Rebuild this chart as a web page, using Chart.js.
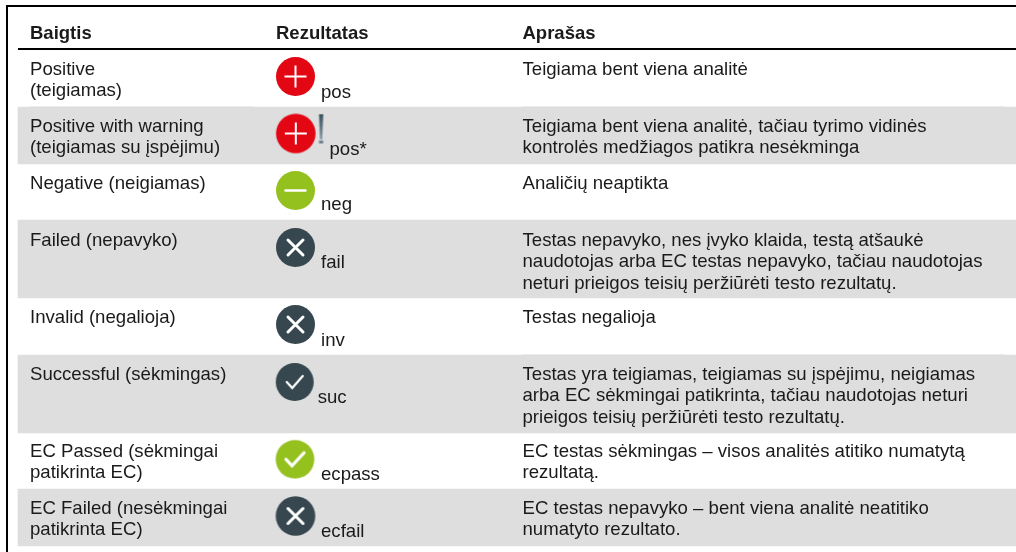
<!DOCTYPE html>
<html lang="lt">
<head>
<meta charset="utf-8">
<title>Baigtis</title>
<script src="https://cdn.jsdelivr.net/npm/chart.js@4/dist/chart.umd.min.js"></script>
<style>
  html, body { margin: 0; background: #fff; }
  canvas { display: block; }
</style>
</head>
<body>
<canvas id="myChart" width="1016" height="552"></canvas>
<script>
const headers = ['Baigtis', 'Rezultatas', 'Aprašas'];
const outcomes = [
  ['Positive', '(teigiamas)'],
  ['Positive with warning', '(teigiamas su įspėjimu)'],
  ['Negative (neigiamas)'],
  ['Failed (nepavyko)'],
  ['Invalid (negalioja)'],
  ['Successful (sėkmingas)'],
  ['EC Passed (sėkmingai', 'patikrinta EC)'],
  ['EC Failed (nesėkmingai', 'patikrinta EC)'],
];
const resultCodes = ['pos', 'pos*', 'neg', 'fail', 'inv', 'suc', 'ecpass', 'ecfail'];
const resultIcons = ['plus', 'plus', 'minus', 'cross', 'cross', 'check', 'greenCheck', 'cross'];
const descriptions = [
  ['Teigiama bent viena analitė'],
  ['Teigiama bent viena analitė, tačiau tyrimo vidinės', 'kontrolės medžiagos patikra nesėkminga'],
  ['Analičių neaptikta'],
  ['Testas nepavyko, nes įvyko klaida, testą atšaukė', 'naudotojas arba EC testas nepavyko, tačiau naudotojas', 'neturi prieigos teisių peržiūrėti testo rezultatų.'],
  ['Testas negalioja'],
  ['Testas yra teigiamas, teigiamas su įspėjimu, neigiamas', 'arba EC sėkmingai patikrinta, tačiau naudotojas neturi', 'prieigos teisių peržiūrėti testo rezultatų.'],
  ['EC testas sėkmingas – visos analitės atitiko numatytą', 'rezultatą.'],
  ['EC testas nepavyko – bent viena analitė neatitiko', 'numatyto rezultato.'],
];

// row layout (scale units = pixels of the picture)
const rowEdges = [50, 107, 164, 220, 298, 355, 433, 489, 546];
const firstBaselines = [75, 132, 189, 246, 323, 380, 457, 514];
const iconX = [295.5, 295.8, 295.5, 295.5, 295.5, 294.7, 295, 295.5];
const iconY = [76.5, 133.5, 190.5, 247.5, 324.5, 382, 459.3, 516];
const iconR = [19.5, 19.8, 19.5, 19.5, 19.5, 19, 19.3, 19.8];
const codeX = [321, 329.5, 321, 321, 321, 317.7, 321, 321];
const codeY = [98, 154.5, 210, 268, 346, 403, 480, 537];
const columnX = [30, 276, 522.5];
const headerY = 39;
const LINE_HEIGHT = 21.3;

const COLORS = { red: '#e30613', green: '#95c11f', slate: '#37474f', band: '#dedede', ink: '#1a1a1a' };

function makeIcon(kind, r) {
  const size = Math.ceil(r * 2) + 2;
  const canvas = document.createElement('canvas');
  canvas.width = size;
  canvas.height = size;
  const ctx = canvas.getContext('2d');
  const fill = { plus: COLORS.red, minus: COLORS.green, cross: COLORS.slate, check: COLORS.slate, greenCheck: COLORS.green };
  ctx.translate(size / 2, size / 2);
  ctx.fillStyle = fill[kind];
  ctx.beginPath();
  ctx.arc(0, 0, r, 0, Math.PI * 2);
  ctx.fill();
  ctx.strokeStyle = '#fff';
  ctx.lineCap = 'round';
  ctx.beginPath();
  if (kind === 'plus') {
    ctx.lineWidth = 2;
    ctx.lineCap = 'butt';
    ctx.moveTo(-11, 0); ctx.lineTo(11, 0);
    ctx.moveTo(0, -11); ctx.lineTo(0, 11);
  } else if (kind === 'minus') {
    ctx.lineWidth = 2.4;
    ctx.moveTo(-10, 0); ctx.lineTo(10, 0);
  } else if (kind === 'cross') {
    ctx.lineWidth = 3;
    ctx.moveTo(-7.5, -7.5); ctx.lineTo(7.5, 7.5);
    ctx.moveTo(7.5, -7.5); ctx.lineTo(-7.5, 7.5);
  } else if (kind === 'check') {
    ctx.lineWidth = 2.2;
    ctx.moveTo(-8, 0); ctx.lineTo(-2.5, 6); ctx.lineTo(8, -6);
  } else {
    ctx.lineWidth = 3.2;
    ctx.moveTo(-9, 0); ctx.lineTo(-3, 6.5); ctx.lineTo(9, -6.5);
  }
  ctx.stroke();
  return canvas;
}

function makeWarningMark() {
  const canvas = document.createElement('canvas');
  canvas.width = 7;
  canvas.height = 31;
  const ctx = canvas.getContext('2d');
  const grad = ctx.createLinearGradient(0, 0, 0, 26);
  grad.addColorStop(0, '#36505e');
  grad.addColorStop(1, '#8c9ba3');
  ctx.fillStyle = grad;
  ctx.beginPath();
  ctx.moveTo(1.5, 0.5); ctx.lineTo(5.8, 0.5); ctx.lineTo(4.8, 26); ctx.lineTo(2.4, 26);
  ctx.fill();
  ctx.fillStyle = '#6e8390';
  ctx.fillRect(1.5, 27, 4.2, 3);
  return canvas;
}

const tableText = {
  id: 'tableText',
  afterDatasetsDraw(chart) {
    const { ctx, scales: { x, y } } = chart;
    const put = (text, px, py) => ctx.fillText(text, x.getPixelForValue(px), y.getPixelForValue(py));
    ctx.save();
    ctx.fillStyle = COLORS.ink;
    ctx.textBaseline = 'alphabetic';
    ctx.font = 'bold 18.5px "Liberation Sans"';
    headers.forEach((h, i) => put(h, columnX[i], headerY));
    ctx.font = '18.6px "Liberation Sans"';
    firstBaselines.forEach((base, i) => {
      outcomes[i].forEach((line, j) => put(line, columnX[0], base + j * LINE_HEIGHT));
      descriptions[i].forEach((line, j) => put(line, columnX[2], base + j * LINE_HEIGHT));
      put(resultCodes[i], codeX[i], codeY[i]);
    });
    ctx.restore();
  },
};

const hairline = (x0, x1, y) => ({
  type: 'line',
  order: 2,
  data: [{ x: x0, y }, { x: x1, y }],
  borderColor: '#ececec',
  borderWidth: 1,
  pointRadius: 0,
});

const bandRows = [1, 3, 5, 7];
new Chart(document.getElementById('myChart').getContext('2d'), {
  type: 'bar',
  data: {
    datasets: [
      {
        type: 'scatter',
        order: 1,
        data: iconX.map((v, i) => ({ x: v, y: iconY[i] })).concat([{ x: 321, y: 129 }]),
        pointStyle: resultIcons.map((k, i) => makeIcon(k, iconR[i])).concat([makeWarningMark()]),
        pointRadius: 20,
      },
      {
        type: 'line',
        order: 2,
        data: [{ x: 7, y: 552 }, { x: 7, y: 6 }, { x: 1016, y: 6 }],
        borderColor: '#000',
        borderWidth: 2,
        pointRadius: 0,
        tension: 0,
      },
      {
        type: 'line',
        order: 2,
        data: [{ x: 18, y: 49 }, { x: 1016, y: 49 }],
        borderColor: '#000',
        borderWidth: 2,
        pointRadius: 0,
      },
      hairline(30, 254, 106.5),
      hairline(522, 1005, 106.5),
      hairline(522, 1005, 354.5),
      {
        type: 'bar',
        order: 3,
        data: bandRows.map((r) => ({ x: 517, y: [rowEdges[r], rowEdges[r + 1]] })),
        backgroundColor: COLORS.band,
        barThickness: 998,
        borderWidth: 0,
        borderSkipped: false,
      },
    ],
  },
  options: {
    responsive: false,
    animation: false,
    layout: { padding: 0, autoPadding: false },
    events: [],
    plugins: { legend: { display: false }, tooltip: { enabled: false } },
    scales: {
      x: { type: 'linear', min: 0, max: 1016, offset: false, display: false },
      y: { type: 'linear', min: 0, max: 552, reverse: true, offset: false, display: false },
    },
  },
  plugins: [tableText],
});
</script>
</body>
</html>
